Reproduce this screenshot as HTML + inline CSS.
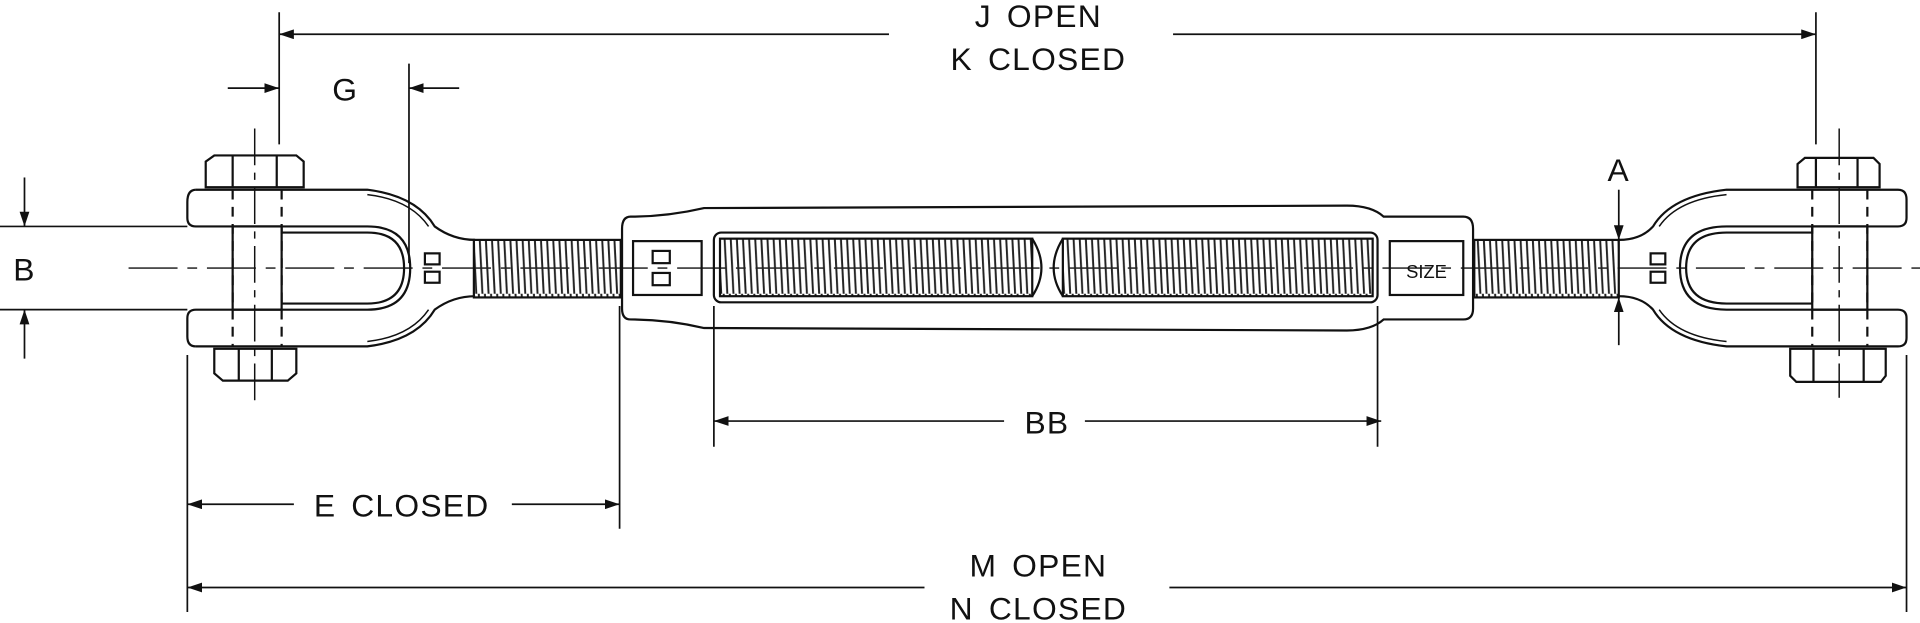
<!DOCTYPE html>
<html><head><style>html,body{margin:0;padding:0;background:#fff;width:1920px;height:623px;overflow:hidden}
svg{display:block}
text{font-family:"Liberation Sans",sans-serif;font-size:26px;fill:#111;text-anchor:middle;letter-spacing:1px;word-spacing:4px}
</style></head><body>
<svg width="1920" height="623" viewBox="0 0 1568 509" preserveAspectRatio="none" xmlns="http://www.w3.org/2000/svg">
<defs>
<pattern id="thr" width="5" height="60" patternUnits="userSpaceOnUse">
<path d="M1 0 L4 60" stroke="#222" stroke-width="1.6"/>
</pattern>
<marker id="ar" markerWidth="12" markerHeight="8" refX="12" refY="4" orient="auto" markerUnits="userSpaceOnUse"><path d="M0 0 L12 4 L0 8Z" fill="#111"/></marker>
</defs>
<g fill="none" stroke="#111" stroke-width="1.8">
<line x1="105" y1="219" x2="1568" y2="219" stroke-width="1.2" stroke-dasharray="40 8 8 8"/>
<!-- left jaw -->
<path d="M160 155 L300 155 Q340 160 355 185 Q370 196 388 196"/>
<path d="M160 283 L300 283 Q340 278 355 253 Q370 242 388 242"/>
<path d="M300 159 Q335 163 350 185" stroke-width="1.2"/>
<path d="M300 279 Q335 275 350 253" stroke-width="1.2"/>
<path d="M160 155 Q153 155 153 165 L153 178 Q153 185 160 185 L300 185 Q335 185 335 219 Q335 253 300 253 L160 253 Q153 253 153 260 L153 275 Q153 283 160 283"/>
<path d="M230 190 L300 190 Q330 190 330 219 Q330 248 300 248 L230 248"/>
<rect x="190" y="185" width="40" height="68"/>
<line x1="190" y1="155" x2="190" y2="283" stroke-dasharray="8 6"/>
<line x1="230" y1="155" x2="230" y2="283" stroke-dasharray="8 6"/>
<line x1="208" y1="105" x2="208" y2="330" stroke-width="1.2" stroke-dasharray="30 6 6 6"/>
<path d="M168 153 L168 132 L175 127 L242 127 L248 132 L248 153 Z M190 127 V153 M226 127 V153"/>
<path d="M175 285 L175 305 L182 311 L235 311 L242 305 L242 285 Z M195 285 V311 M222 285 V311"/>
<rect x="347" y="207" width="12" height="9"/><rect x="347" y="222" width="12" height="9"/>
<rect x="387" y="196" width="120" height="47" fill="url(#thr)"/>
<!-- body -->
<path d="M515 177 Q545 177 575 170 L1100 168 Q1120 168 1130 177 L1195 177 Q1203 177 1203 187 L1203 252 Q1203 261 1195 261 L1130 261 Q1120 270 1100 270 L575 268 Q545 261 515 261 Q508 261 508 252 L508 187 Q508 177 515 177 Z"/>
<rect x="517" y="197" width="56" height="44"/>
<rect x="1135" y="197" width="60" height="44"/>
<rect x="583" y="190" width="542" height="57" rx="6"/>
<rect x="588" y="195" width="255" height="47" fill="url(#thr)"/>
<rect x="868" y="195" width="253" height="47" fill="url(#thr)"/>
<path d="M843 195 Q858 219 843 242 M868 195 Q853 219 868 242"/>
<rect x="533" y="205" width="14" height="10"/><rect x="533" y="223" width="14" height="10"/>
<rect x="1204" y="196" width="118" height="47" fill="url(#thr)"/>
<!-- right jaw -->
<path d="M1322 196 Q1340 196 1350 185 Q1365 160 1410 155 L1550 155 Q1557 155 1557 163 L1557 178 Q1557 185 1550 185 L1410 185 Q1372 185 1372 219 Q1372 253 1410 253 L1550 253 Q1557 253 1557 260 L1557 276 Q1557 283 1550 283 L1410 283 Q1365 278 1350 253 Q1340 242 1322 242"/>
<path d="M1410 159 Q1370 163 1355 185" stroke-width="1.2"/>
<path d="M1410 279 Q1370 275 1355 253" stroke-width="1.2"/>
<path d="M1480 190 L1410 190 Q1377 190 1377 219 Q1377 248 1410 248 L1480 248"/>
<rect x="1480" y="185" width="45" height="68"/>
<line x1="1480" y1="155" x2="1480" y2="283" stroke-dasharray="8 6"/>
<line x1="1525" y1="155" x2="1525" y2="283" stroke-dasharray="8 6"/>
<line x1="1502" y1="105" x2="1502" y2="325" stroke-width="1.2" stroke-dasharray="30 6 6 6"/>
<path d="M1468 153 L1468 134 L1474 129 L1530 129 L1535 134 L1535 153 Z M1483 129 V153 M1517 129 V153"/>
<path d="M1462 285 L1462 307 L1467 312 L1536 312 L1540 307 L1540 285 Z M1481 285 V312 M1522 285 V312"/>
<rect x="1348" y="207" width="12" height="9"/><rect x="1348" y="222" width="12" height="9"/>
</g>
<text x="1165" y="227" style="font-size:15px;letter-spacing:0">SIZE</text>
<g stroke="#111" stroke-width="1.4" fill="none">
<line x1="228" y1="10" x2="228" y2="118"/><line x1="1483" y1="10" x2="1483" y2="118"/>
<line x1="726" y1="28" x2="228" y2="28" marker-end="url(#ar)"/><line x1="958" y1="28" x2="1483" y2="28" marker-end="url(#ar)"/>
<line x1="186" y1="72" x2="228" y2="72" marker-end="url(#ar)"/><line x1="375" y1="72" x2="334" y2="72" marker-end="url(#ar)"/>
<line x1="334" y1="52" x2="334" y2="215"/>
<line x1="0" y1="185" x2="153" y2="185"/><line x1="0" y1="253" x2="153" y2="253"/>
<line x1="20" y1="145" x2="20" y2="185" marker-end="url(#ar)"/><line x1="20" y1="293" x2="20" y2="253" marker-end="url(#ar)"/>
<line x1="1322" y1="155" x2="1322" y2="196" marker-end="url(#ar)"/><line x1="1322" y1="282" x2="1322" y2="243" marker-end="url(#ar)"/>
<line x1="583" y1="250" x2="583" y2="365"/><line x1="1125" y1="250" x2="1125" y2="365"/>
<line x1="820" y1="344" x2="583" y2="344" marker-end="url(#ar)"/><line x1="886" y1="344" x2="1128" y2="344" marker-end="url(#ar)"/>
<line x1="153" y1="290" x2="153" y2="500"/><line x1="506" y1="250" x2="506" y2="432"/><line x1="1557" y1="290" x2="1557" y2="500"/>
<line x1="240" y1="412" x2="153" y2="412" marker-end="url(#ar)"/><line x1="418" y1="412" x2="506" y2="412" marker-end="url(#ar)"/>
<line x1="755" y1="480" x2="153" y2="480" marker-end="url(#ar)"/><line x1="955" y1="480" x2="1557" y2="480" marker-end="url(#ar)"/>
</g>
<text x="848" y="22">J OPEN</text>
<text x="848" y="57">K CLOSED</text>
<text x="282" y="82">G</text>
<text x="20" y="229">B</text>
<text x="1322" y="148">A</text>
<text x="855" y="354">BB</text>
<text x="328" y="422">E CLOSED</text>
<text x="848" y="471">M OPEN</text>
<text x="848" y="506">N CLOSED</text>
</svg>
</body></html>
